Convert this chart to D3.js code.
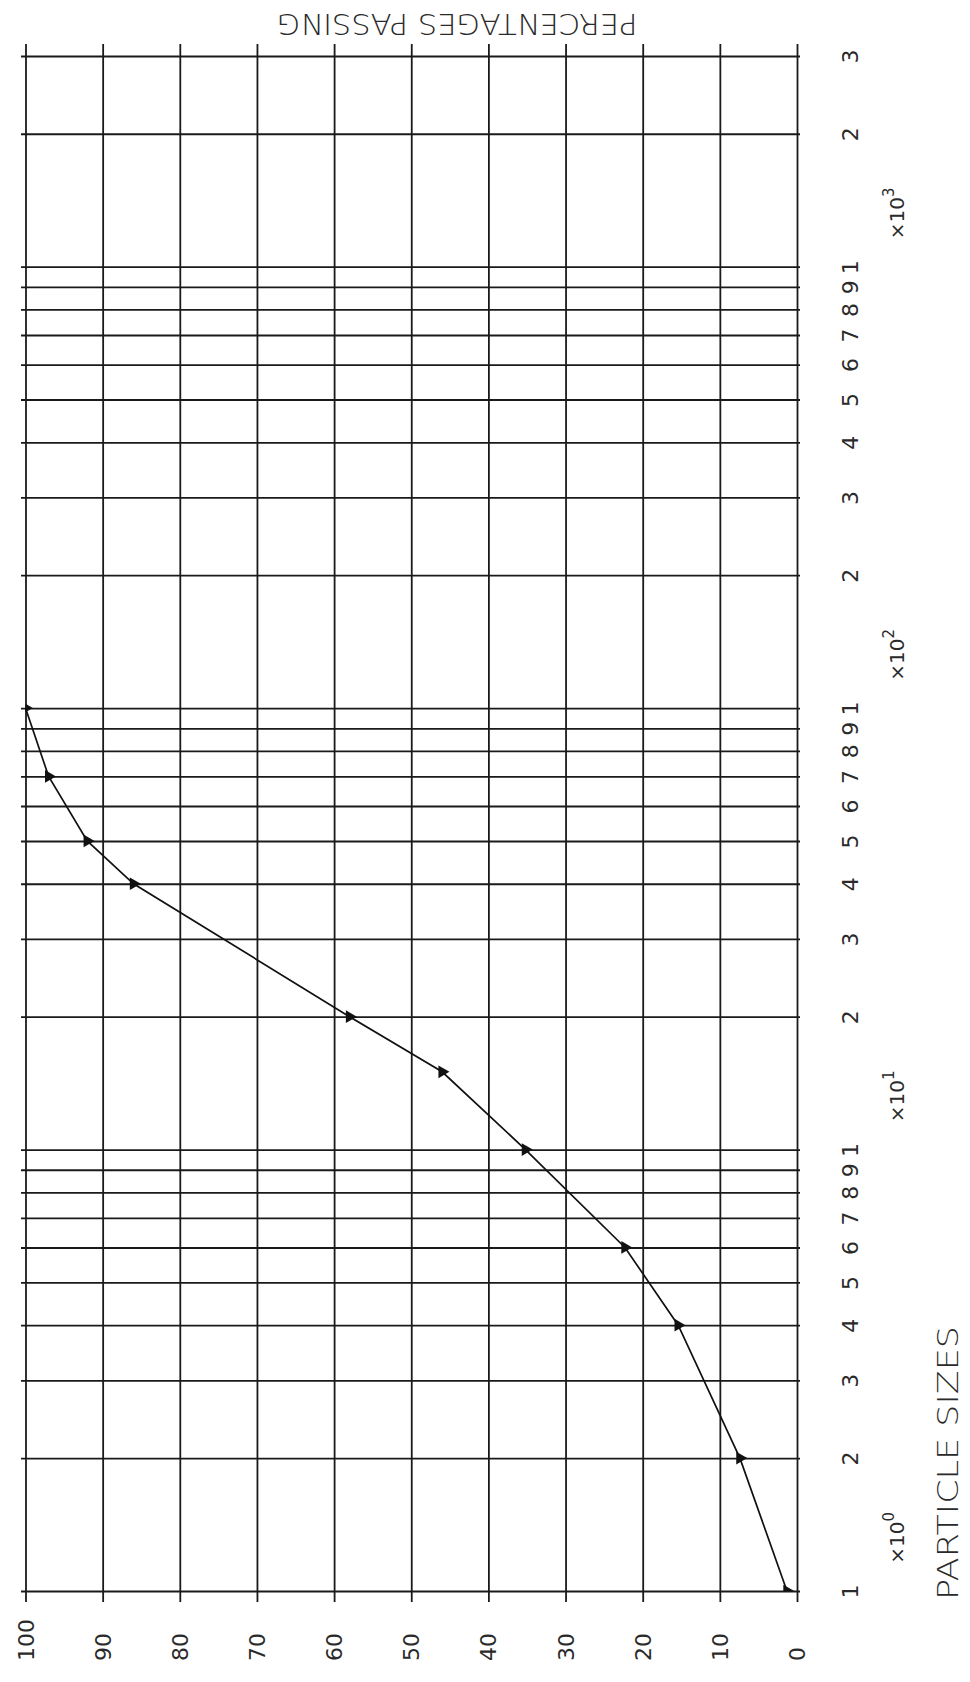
<!DOCTYPE html>
<html>
<head>
<meta charset="utf-8">
<script src="https://cdn.jsdelivr.net/npm/d3@7"></script>
<style>
  body { margin: 0; background: #fff; }
  text { font-family: "DejaVu Sans", sans-serif; font-weight: 400; fill: #2a2a2a; }
  .grid line { stroke: #1a1a1a; stroke-width: 1.8; }
</style>
</head>
<body>
<div id="chart"></div>
<script>
// grading curve: particle size vs percentage passing (plot is turned on its side)
var sizes   = [1, 2, 4, 6, 10, 15, 20, 40, 50, 70, 100];
var passing = [1.3, 7.4, 15.4, 22.3, 35.2, 46.0, 58.0, 86.0, 92.0, 97.0, 100];

var pctTicks = [100, 90, 80, 70, 60, 50, 40, 30, 20, 10, 0];
var pctTickLabels = ['100', '90', '80', '70', '60', '50', '40', '30', '20', '10', '0'];

var sizeTicks = [1, 2, 3, 4, 5, 6, 7, 8, 9,
                 10, 20, 30, 40, 50, 60, 70, 80, 90,
                 100, 200, 300, 400, 500, 600, 700, 800, 900,
                 1000, 2000, 3000];
var sizeTickLabels = ['1', '2', '3', '4', '5', '6', '7', '8', '9',
                      '1', '2', '3', '4', '5', '6', '7', '8', '9',
                      '1', '2', '3', '4', '5', '6', '7', '8', '9',
                      '1', '2', '3'];
var decadeExponents = ['0', '1', '2', '3'];

var width = 970, height = 1682;
var plotL = 25.5, plotR = 797, plotT = 56, plotB = 1591;

var x = d3.scaleLinear().domain([100, 0]).range([plotL, plotR]);
var y = d3.scaleLog().domain([1, 3000]).range([plotB, plotT]);

var svg = d3.select('#chart').append('svg')
  .attr('width', width)
  .attr('height', height);

// vertical grid lines + percentage labels
var xAxis = svg.append('g')
  .attr('class', 'grid')
  .attr('transform', 'translate(0,44)')
  .call(d3.axisBottom(x)
    .tickValues(pctTicks)
    .tickFormat(function(d, i) { return pctTickLabels[i]; })
    .tickSize(1602 - 44));
xAxis.select('.domain').remove();
xAxis.selectAll('text')
  .attr('y', null).attr('dy', null)
  .attr('transform', 'translate(0,' + (1661 - 44) + ') rotate(-90)')
  .attr('text-anchor', 'start')
  .attr('dominant-baseline', 'central')
  .style('font-size', '22px');

// horizontal grid lines + size labels
var yAxis = svg.append('g')
  .attr('class', 'grid')
  .attr('transform', 'translate(21,0)')
  .call(d3.axisRight(y)
    .tickValues(sizeTicks)
    .tickFormat(function(d, i) { return sizeTickLabels[i]; })
    .tickSize(800 - 21));
yAxis.select('.domain').remove();
yAxis.selectAll('text')
  .attr('x', null).attr('dy', null)
  .attr('transform', 'translate(' + (850 - 21) + ',0) rotate(-90)')
  .attr('text-anchor', 'middle')
  .attr('dominant-baseline', 'central')
  .style('font-size', '22px');

// decade multipliers
var mult = svg.selectAll('.mult')
  .data(decadeExponents)
  .enter()
  .append('text')
  .attr('class', 'mult')
  .attr('transform', function(d, i) {
    return 'translate(897,' + y(1.32 * Math.pow(10, i)) + ') rotate(-90)';
  })
  .attr('text-anchor', 'middle')
  .attr('dominant-baseline', 'central')
  .style('font-size', '20px');
mult.append('tspan').text('×10');
mult.append('tspan')
  .attr('dy', '-0.55em')
  .style('font-size', '15px')
  .text(function(d) { return d; });

// curve
svg.append('clipPath').attr('id', 'plotclip')
  .append('rect')
  .attr('x', plotL).attr('y', plotT)
  .attr('width', plotR - plotL).attr('height', plotB - plotT);

var line = d3.line()
  .x(function(d, i) { return x(passing[i]); })
  .y(function(d) { return y(d); });

svg.append('path')
  .datum(sizes)
  .attr('d', line)
  .attr('fill', 'none')
  .attr('stroke', '#111')
  .attr('stroke-width', 1.7);

svg.append('g')
  .attr('clip-path', 'url(#plotclip)')
  .selectAll('path')
  .data(sizes)
  .enter()
  .append('path')
  .attr('d', d3.symbol(d3.symbolTriangle, 70))
  .attr('transform', function(d, i) {
    return 'translate(' + x(passing[i]) + ',' + y(d) + ') rotate(90)';
  })
  .attr('fill', '#111');

// axis titles
svg.append('text')
  .attr('transform', 'translate(457,24) rotate(180)')
  .attr('text-anchor', 'middle')
  .attr('dominant-baseline', 'central')
  .attr('textLength', 361)
  .attr('lengthAdjust', 'spacingAndGlyphs')
  .style('font-size', '29px')
  .style('font-weight', 200)
  .text('PERCENTAGES PASSING');

svg.append('text')
  .attr('transform', 'translate(948,1600) rotate(-90)')
  .attr('text-anchor', 'start')
  .attr('dominant-baseline', 'central')
  .attr('textLength', 274)
  .attr('lengthAdjust', 'spacingAndGlyphs')
  .style('font-size', '29px')
  .style('font-weight', 200)
  .text('PARTICLE SIZES');
</script>
</body>
</html>
